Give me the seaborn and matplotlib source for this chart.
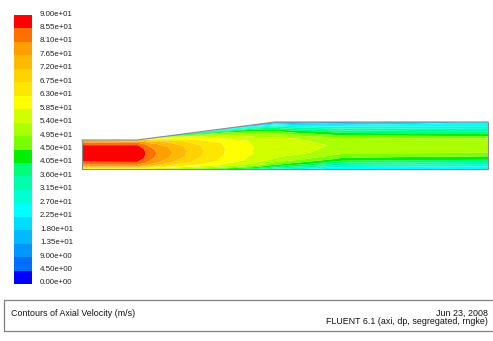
import numpy as np
import matplotlib
matplotlib.use("Agg")
import matplotlib.pyplot as plt
import matplotlib.colors as mcolors
from matplotlib.patches import Rectangle
from matplotlib.transforms import ScaledTranslation
import seaborn as sns

# ---------------- data ----------------
# channel geometry (mm): axial position of wall vertices and channel height
wall_x = [0, 55, 193, 406]
wall_h = [29, 29, 47, 47]

# axial stations (mm) and normalized cross-stream position (0 = bottom wall, 1 = top wall)
stations = [0, 55, 62, 70, 90, 115, 145, 175, 193, 210, 260, 320, 406]
eta = [0.0, 0.04, 0.1, 0.2, 0.35, 0.5, 0.65, 0.8, 0.9, 0.96, 1.0]

# axial velocity profiles (m/s) read at each station, bottom wall -> top wall
u_x000 = [58, 66, 78, 84.0, 88.0, 89.0, 88.5, 86.5, 82, 77, 70]
u_x055 = [58, 66, 78, 84.5, 88.0, 89.0, 88.5, 86.5, 82, 75, 66]
u_x062 = [56, 64, 75, 81.5, 85.3, 86.3, 85.7, 82.5, 77, 69, 60]
u_x070 = [55, 62, 72, 78.5, 81.5, 82.4, 81.5, 78.0, 71, 62, 52]
u_x090 = [52, 58, 66, 72.0, 75.8, 76.6, 75.5, 71.0, 62, 50, 40]
u_x115 = [48, 55, 62, 66.5, 68.5, 69.0, 68.0, 63.0, 53, 40, 30]
u_x145 = [42, 50, 57, 61.0, 62.4, 62.6, 61.8, 56.0, 45, 32, 22]
u_x175 = [36, 44, 52, 56.5, 57.8, 58.0, 57.0, 50.0, 38, 24, 14]
u_x193 = [30, 38, 46, 53.0, 56.8, 57.2, 55.5, 46.0, 33, 20, 11]
u_x210 = [28, 35, 43, 51.0, 55.8, 56.5, 54.5, 43.0, 30, 18, 10]
u_x260 = [24, 27, 33, 43.0, 51.0, 53.0, 50.5, 38.0, 27, 20, 15]
u_x320 = [23.5, 26, 32, 42.0, 50.3, 51.5, 49.8, 37.0, 27.5, 22, 19]
u_x406 = [23, 25.5, 31, 41.0, 49.7, 51.0, 49.5, 36.0, 27.5, 24.5, 23]

# colour-map levels (m/s) and band colours, low -> high
levels = [0.0, 4.5, 9.0, 13.5, 18.0, 22.5, 27.0, 31.5, 36.0, 40.5, 45.0,
          49.5, 54.0, 58.5, 63.0, 67.5, 72.0, 76.5, 81.0, 85.5, 90.0]
band_colors = ["#0000ff", "#006eff", "#0096ff", "#00b9ff", "#00dcff",
               "#00ffff", "#00ffd2", "#00ffaa", "#00ff78", "#00f000",
               "#78ff00", "#aaff00", "#d2ff00", "#ffff00", "#ffe600",
               "#ffd200", "#ffb900", "#ffa000", "#ff7000", "#ff0000"]

title_text = "Contours of Axial Velocity (m/s)"
date_text = "Jun 23, 2008"
solver_text = "FLUENT 6.1 (axi, dp, segregated, rngke)"

# ---------------- figure ----------------
sns.set_style("white")
plt.rcParams["font.family"] = ["Liberation Sans", "DejaVu Sans"]

W, H = 493, 341
fig = plt.figure(figsize=(W / 100, H / 100), dpi=100)
fig.patch.set_facecolor("white")

ax = fig.add_axes([82 / W, (H - 169) / H, 406 / W, 47 / H])
ax.set_xlim(0, 406)
ax.set_ylim(0, 47)
ax.axis("off")

profiles = np.array([u_x000, u_x055, u_x062, u_x070, u_x090, u_x115, u_x145,
                     u_x175, u_x193, u_x210, u_x260, u_x320, u_x406]).T
st = np.array(stations, dtype=float)
h_st = np.interp(st, wall_x, wall_h)
X = np.tile(st, (len(eta), 1))
Y = np.outer(eta, h_st)

cmap = mcolors.ListedColormap(sns.color_palette(band_colors))
norm = mcolors.BoundaryNorm(levels, cmap.N)
cs = ax.contourf(X, Y, profiles, levels=levels, cmap=cmap, norm=norm,
                 antialiased=True)

edge = "#8a8a8a"
ax.plot(wall_x, wall_h, color=edge, lw=0.8, clip_on=False)
ax.plot([wall_x[0], wall_x[-1]], [0, 0], color=edge, lw=0.8, clip_on=False)
ax.plot([wall_x[0], wall_x[0]], [0, wall_h[0]], color=edge, lw=0.8, clip_on=False)
ax.plot([wall_x[-1], wall_x[-1]], [0, wall_h[-1]], color=edge, lw=0.8, clip_on=False)

# colour bar
cax = fig.add_axes([14 / W, (H - 284) / H, 18 / W, 269 / H])
cb = fig.colorbar(cs, cax=cax, ticks=levels)
cb.outline.set_visible(False)
cax.tick_params(length=0, pad=5.8, labelsize=5.7, colors="#222222")
cax.set_yticklabels([f"{v:.2e}" for v in levels])
shift = ScaledTranslation(0, 2 / 100, fig.dpi_scale_trans)
for lab in cax.get_yticklabels():
    lab.set_transform(lab.get_transform() + shift)

# footer box
fig.add_artist(Rectangle((4 / W, (H - 331) / H), 1.0, 31 / H,
                         transform=fig.transFigure, fill=False,
                         edgecolor="#808080", lw=0.9))
fig.text(11 / W, (H - 313) / H, title_text, fontsize=6.4, va="center",
         ha="left", color="#111111")
fig.text(488 / W, (H - 313) / H, date_text, fontsize=6.4, va="center",
         ha="right", color="#111111")
fig.text(488 / W, (H - 322) / H, solver_text, fontsize=6.4, va="center",
         ha="right", color="#111111")

fig.savefig("out.png", dpi=100, facecolor="white")
